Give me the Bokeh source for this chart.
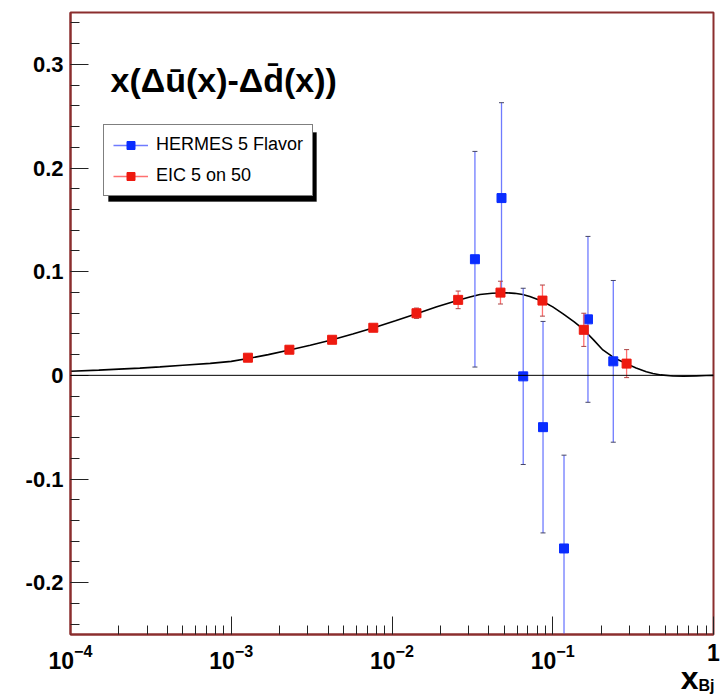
from bokeh.plotting import figure
from bokeh.models import (Range1d, FixedTicker, CustomJSTickFormatter, Span, Label,
                          Legend, LegendItem, ColumnDataSource, LogAxis, BoxAnnotation)
from bokeh.embed import file_html
from bokeh.resources import INLINE

# ---------------- data ----------------
hermes_x = [0.0328, 0.048, 0.0655, 0.087, 0.1175, 0.1656, 0.238]
hermes_y = [0.112, 0.171, -0.001, -0.050, -0.167, 0.054, 0.0135]
hermes_err = [0.104, 0.092, 0.085, 0.102, 0.090, 0.080, 0.078]

eic_x = [0.00127, 0.0023, 0.00424, 0.00765, 0.0142, 0.0258, 0.0473, 0.0863, 0.156, 0.288]
eic_y = [0.017, 0.0247, 0.0343, 0.0459, 0.0599, 0.0728, 0.0798, 0.0721, 0.0439, 0.0113]
eic_err = [0.002, 0.002, 0.002, 0.003, 0.005, 0.0085, 0.011, 0.015, 0.016, 0.0135]

curve_x = [1e-4, 1.5e-4, 2e-4, 2.7e-4, 3.6e-4, 5e-4, 7.4e-4, 1e-3, 1.27e-3, 1.7e-3, 2.3e-3,
           3.1e-3, 4.2e-3, 5.7e-3, 7.7e-3, 0.0105, 0.0142, 0.019, 0.0258, 0.0305, 0.0352,
           0.042, 0.0515, 0.058, 0.065, 0.072, 0.0863, 0.1, 0.116, 0.136, 0.156, 0.18,
           0.205, 0.24, 0.287, 0.33, 0.382, 0.42, 0.47, 0.558, 0.65, 0.778, 0.9, 1.0]
curve_y = [0.004, 0.005, 0.006, 0.007, 0.0082, 0.0098, 0.0115, 0.0135, 0.0162, 0.0200, 0.0245,
           0.0290, 0.0340, 0.0398, 0.0460, 0.0527, 0.0595, 0.0662, 0.0725, 0.0756, 0.0779,
           0.0792, 0.0796, 0.0791, 0.0779, 0.0760, 0.0714, 0.0660, 0.0593, 0.0515, 0.0440,
           0.0340, 0.0245, 0.0170, 0.0113, 0.0070, 0.0035, 0.0018, 0.0004, -0.0007, -0.0009,
           -0.0005, -0.0002, 0.0]

x_major_ticks = [1e-4, 1e-3, 1e-2, 1e-1, 1.0]
y_major_ticks = [-0.2, -0.1, 0.0, 0.1, 0.2, 0.3]

title_text = "x(\u0394\u016b(x)-\u0394d\u0304(x))"
legend_labels = ["HERMES 5 Flavor", "EIC 5 on 50"]
x_title_main = "x"
x_title_sub = "Bj"

# ---------------- styling ----------------
FRAME = "#8B2E2E"
BLUE = "#0a2dff"
BLUE_BAR = "#6f7bff"
RED = "#ee1a10"
RED_BAR = "#ff7070"
FONT = "Liberation Sans"

p = figure(width=721, height=698, x_axis_type="log",
           x_range=Range1d(1e-4, 1.0), y_range=Range1d(-0.25, 0.35),
           output_backend="svg", toolbar_location=None,
           min_border_left=70, min_border_right=8, min_border_top=12, min_border_bottom=64)
p.grid.visible = False
p.outline_line_color = FRAME
p.outline_line_width = 2
p.background_fill_color = "white"
p.border_fill_color = "white"

# axes
minor_x = [m * d for d in [1e-4, 1e-3, 1e-2, 1e-1] for m in range(2, 10)]
p.xaxis.ticker = FixedTicker(ticks=x_major_ticks, minor_ticks=minor_x)
p.xaxis.major_label_overrides = {1.0: "1"}
minor_y = [round(-0.24 + 0.02 * i, 2) for i in range(30)]
p.yaxis.ticker = FixedTicker(ticks=y_major_ticks, minor_ticks=minor_y)
p.yaxis.formatter = CustomJSTickFormatter(
    code="return Math.abs(tick) < 1e-9 ? '0' : tick.toFixed(1);")

for ax in (p.xaxis[0], p.yaxis[0]):
    ax.axis_line_color = FRAME
    ax.axis_line_width = 2
    ax.major_tick_in = 18
    ax.major_tick_out = 0
    ax.minor_tick_in = 9
    ax.minor_tick_out = 0
    ax.major_tick_line_color = "#222222"
    ax.minor_tick_line_color = "#222222"
    ax.major_tick_line_width = 1
    ax.minor_tick_line_width = 1
    ax.major_label_text_font = FONT
    ax.major_label_text_font_style = "bold"
    ax.major_label_text_color = "black"
p.yaxis.major_label_text_font_size = "22px"
p.xaxis.major_label_text_font_size = "23px"
p.yaxis.major_label_standoff = 7
p.xaxis.major_label_standoff = 9


def text_axis(tick, txt, size, standoff):
    ax = LogAxis(ticker=FixedTicker(ticks=[tick], minor_ticks=[]),
                 formatter=CustomJSTickFormatter(code="return '%s';" % txt))
    ax.axis_line_color = None
    ax.major_tick_line_color = None
    ax.minor_tick_line_color = None
    ax.major_tick_in = 0
    ax.major_tick_out = 0
    ax.minor_tick_in = 0
    ax.minor_tick_out = 0
    ax.major_label_text_font = FONT
    ax.major_label_text_font_style = "bold"
    ax.major_label_text_font_size = size
    ax.major_label_text_color = "black"
    ax.major_label_standoff = standoff
    p.add_layout(ax, "below")


text_axis(0.71, x_title_main, "32px", -12)
text_axis(0.905, x_title_sub, "16px", -22)

# zero line
p.add_layout(Span(location=0, dimension="width", line_color="black", line_width=1))

# curve
p.line(curve_x, curve_y, line_color="black", line_width=1.6)

# HERMES
hsrc = ColumnDataSource(dict(x=hermes_x, y=hermes_y,
                             lo=[y - e for y, e in zip(hermes_y, hermes_err)],
                             hi=[y + e for y, e in zip(hermes_y, hermes_err)]))
hbars = p.segment(x0="x", x1="x", y0="lo", y1="hi", source=hsrc,
                  line_color=BLUE_BAR, line_width=1.3)
p.scatter(x="x", y="lo", source=hsrc, marker="dash", size=5, line_color="#444466", line_width=1)
p.scatter(x="x", y="hi", source=hsrc, marker="dash", size=5, line_color="#444466", line_width=1)
hpts = p.scatter(x="x", y="y", source=hsrc, marker="square", size=9,
                 fill_color=BLUE, line_color=BLUE)

# EIC
esrc = ColumnDataSource(dict(x=eic_x, y=eic_y,
                             lo=[y - e for y, e in zip(eic_y, eic_err)],
                             hi=[y + e for y, e in zip(eic_y, eic_err)]))
ebars = p.segment(x0="x", x1="x", y0="lo", y1="hi", source=esrc,
                  line_color=RED_BAR, line_width=1.3)
p.scatter(x="x", y="lo", source=esrc, marker="dash", size=5, line_color="#aa4444", line_width=1)
p.scatter(x="x", y="hi", source=esrc, marker="dash", size=5, line_color="#aa4444", line_width=1)
epts = p.scatter(x="x", y="y", source=esrc, marker="square", size=9,
                 fill_color=RED, line_color=RED)

# legend shadow (screen units) + legend
p.add_layout(BoxAnnotation(left=38, right=246, bottom=433, top=502,
                           left_units="screen", right_units="screen",
                           bottom_units="screen", top_units="screen",
                           fill_color="black", fill_alpha=1.0, line_color="black",
                           level="annotation"))
legend = Legend(items=[LegendItem(label=legend_labels[0], renderers=[hbars, hpts]),
                       LegendItem(label=legend_labels[1], renderers=[ebars, epts])],
                location=(33, 438), orientation="vertical",
                padding=9, spacing=10, margin=0,
                glyph_width=35, glyph_height=20, label_height=20, label_standoff=8,
                label_text_font=FONT, label_text_font_size="18px",
                label_text_color="black",
                border_line_color="black", border_line_width=1,
                background_fill_color="white", background_fill_alpha=1.0)
p.add_layout(legend, "center")

# title inside plot
p.add_layout(Label(x=1e-4, y=0.35, x_offset=40, y_offset=-67, text=title_text,
                   text_font=FONT, text_font_style="bold", text_font_size="34px",
                   text_align="left", text_baseline="middle", text_color="black"))

open("out.html", "w").write(file_html(p, INLINE))
